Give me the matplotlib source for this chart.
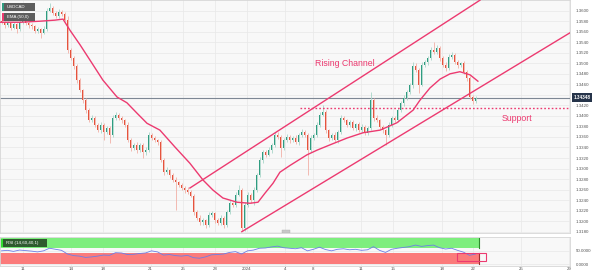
import matplotlib
matplotlib.use("Agg")
import matplotlib.pyplot as plt
from matplotlib.patches import Rectangle

plt.rcParams['font.family'] = ['Liberation Sans', 'DejaVu Sans']

# 4h candles, index 0..158 (closes)
closes = [1.3578, 1.3572, 1.3576, 1.3568, 1.3575, 1.3565, 1.3578, 1.3582, 1.3576, 1.3573,
          1.3570, 1.3562, 1.3565, 1.3558, 1.3566, 1.3600, 1.3605, 1.3596, 1.3590, 1.3598,
          1.3594, 1.3583, 1.3525, 1.3510, 1.3495, 1.3468, 1.3449, 1.3430, 1.3411, 1.3392,
          1.3396, 1.3383, 1.3373, 1.3383, 1.3370, 1.3377, 1.3364, 1.3396, 1.3402, 1.3396,
          1.3392, 1.3383, 1.3354, 1.3339, 1.3345, 1.3335, 1.3345, 1.3331, 1.3335, 1.3364,
          1.3358, 1.3354, 1.3350, 1.3316, 1.3293, 1.3297, 1.3287, 1.3278, 1.3274, 1.3269,
          1.3263, 1.3259, 1.3255, 1.3248, 1.3217, 1.3206, 1.3198, 1.3202, 1.3193, 1.3211,
          1.3215, 1.3202, 1.3196, 1.3206, 1.3193, 1.3217, 1.3234, 1.3231, 1.3250, 1.3259,
          1.3187, 1.3231, 1.3250, 1.3240, 1.3259, 1.3287, 1.3316, 1.3331, 1.3326, 1.3335,
          1.3345, 1.3364, 1.3360, 1.3339, 1.3354, 1.3360, 1.3354, 1.3358, 1.3350, 1.3364,
          1.3370, 1.3364, 1.3335, 1.3358, 1.3364, 1.3383, 1.3402, 1.3407, 1.3373, 1.3358,
          1.3364, 1.3354, 1.3370, 1.3396, 1.3392, 1.3383, 1.3388, 1.3377, 1.3384, 1.3373,
          1.3379, 1.3368, 1.3377, 1.3430, 1.3396, 1.3392, 1.3379, 1.3373, 1.3364, 1.3383,
          1.3396, 1.3392, 1.3411, 1.3424, 1.3434, 1.3445, 1.3459, 1.3495, 1.3487, 1.3459,
          1.3497, 1.3502, 1.3510, 1.3525, 1.3521, 1.3529, 1.3510, 1.3497, 1.3491, 1.3512,
          1.3516, 1.3502, 1.3497, 1.3500, 1.3483, 1.3472, 1.3436, 1.3428, 1.3435]
first_open = 1.3580

# wick lengths in pips above / below the body
up_wick = [4, 3, 5, 3, 4, 2, 5, 4, 3, 3,
           3, 2, 4, 3, 5, 6, 9, 4, 3, 5,
           3, 4, 6, 5, 4, 3, 4, 3, 5, 4,
           6, 3, 4, 5, 3, 4, 4, 6, 5, 3,
           4, 3, 5, 4, 3, 5, 3, 4, 6, 5,
           4, 3, 3, 5, 4, 6, 3, 4, 5, 3,
           4, 3, 5, 4, 3, 4, 5, 4, 3, 6,
           5, 3, 4, 5, 3, 4, 6, 3, 5, 10,
           4, 5, 6, 4, 5, 4, 6, 5, 4, 5,
           4, 6, 5, 3, 4, 5, 3, 4, 5, 4,
           5, 3, 4, 5, 4, 6, 5, 14, 4, 3,
           4, 5, 3, 6, 4, 3, 5, 4, 3, 4,
           5, 3, 4, 16, 4, 5, 3, 4, 3, 5,
           4, 3, 5, 4, 6, 5, 4, 7, 5, 4,
           6, 5, 4, 6, 15, 5, 4, 3, 5, 6,
           6, 4, 5, 3, 4, 5, 3, 4, 3]
dn_wick = [3, 4, 3, 5, 3, 8, 4, 3, 4, 5,
           4, 5, 4, 10, 3, 4, 3, 5, 4, 3,
           4, 3, 5, 4, 6, 5, 4, 6, 5, 4,
           4, 5, 3, 6, 16, 4, 16, 5, 4, 3,
           5, 4, 3, 6, 4, 5, 4, 11, 5, 4,
           3, 4, 5, 3, 6, 4, 5, 3, 53, 4,
           3, 5, 4, 3, 5, 4, 6, 5, 6, 4,
           3, 5, 4, 3, 6, 4, 3, 5, 4, 3,
           6, 5, 4, 5, 9, 4, 3, 5, 4, 3,
           5, 4, 3, 17, 4, 3, 5, 4, 3, 5,
           4, 5, 47, 4, 3, 5, 4, 3, 5, 6,
           3, 4, 5, 4, 3, 5, 4, 3, 5, 4,
           3, 5, 4, 3, 5, 4, 3, 5, 19, 4,
           5, 4, 3, 4, 5, 3, 4, 5, 4, 16,
           3, 4, 5, 3, 4, 3, 5, 4, 6, 3,
           4, 3, 5, 4, 3, 5, 4, 6, 3]

# EMA(50) (candle index, price)
ema_idx = [-0.5, 6.2, 12.8, 17.8, 20.5, 22.8, 26.2, 29.5, 33.8, 38.5, 41.8, 45.2, 48.5,
           52.8, 57.8, 62.8, 67.2, 70.5, 73.8, 78.5, 82.8, 85.5, 87.8, 90.5, 92.8, 96.2,
           101.8, 105.2, 109.5, 115.2, 120.5, 126.2, 131.8, 137.2, 139.5, 142.8, 146.2,
           149.5, 152.8, 156.2, 158.8]
ema_val = [1.3578, 1.3578, 1.3580, 1.3582, 1.3584, 1.3563, 1.3535, 1.3506, 1.3468, 1.3436,
           1.3425, 1.3405, 1.3386, 1.3373, 1.3341, 1.3310, 1.3278, 1.3259, 1.3244, 1.3236,
           1.3234, 1.3236, 1.3253, 1.3272, 1.3293, 1.3306, 1.3326, 1.3335, 1.3345, 1.3358,
           1.3368, 1.3373, 1.3387, 1.3411, 1.3430, 1.3453, 1.3470, 1.3480, 1.3484, 1.3478,
           1.3466]

# RSI(14) every second candle
rsi_idx = list(range(0, 159, 2))
rsi_val = [50, 52, 48, 53, 51, 49, 46, 50, 60, 56,
           52, 38, 32, 30, 25, 27, 30, 34, 33, 43,
           42, 36, 37, 40, 42, 50, 46, 34, 36, 32,
           30, 33, 24, 22, 27, 35, 36, 38, 44, 47,
           38, 50, 53, 60, 61, 65, 68, 62, 60, 58,
           62, 50, 56, 64, 55, 50, 56, 58, 54, 56,
           52, 54, 66, 52, 44, 56, 60, 63, 66, 72,
           67, 70, 72, 62, 57, 60, 52, 45, 33, 38]

tick_idx = [7.1, 23.1, 33.7, 49.7, 60.4, 71.2, 81.8, 94.5, 103.8, 119.8, 130.5, 146.7, 157.2, 173.2, 189.2]
tick_lbl = ['11', '14', '18', '21', '25', '28', '2024', '4', '8', '11', '15', '18', '22', '25', '29']

upper_x, upper_y = [62.8, 159.5], [1.3263, 1.3620]
lower_x, lower_y = [80.1, 189.5], [1.3180, 1.3558]
support = 1.3416
last_price = 1.34348

pink = '#ec3a70'
bull, bear = '#2f9c80', '#e5533d'
bull_w, bear_w = '#a9d6c9', '#f2b0a6'

fig = plt.figure(figsize=(6, 2.75), dpi=100)
ax = fig.add_axes([0, 1 - 233 / 275, 0.95, 233 / 275])
ar = fig.add_axes([0, 1 - 265.5 / 275, 0.95, 28.5 / 275])

for a in (ax, ar):
    a.set_facecolor('#f8f8f8')
    a.set_xlim(-0.5, 189.5)
    for s in a.spines.values():
        s.set_color('#d6d6d6')
        s.set_linewidth(0.6)
    a.set_xticks(tick_idx)
    a.grid(True, color='#e8e8e8', lw=0.5)
    a.set_axisbelow(True)
    a.yaxis.tick_right()
    a.tick_params(length=0, labelsize=3.2, labelcolor='#555555', pad=4)

# candles
opens = [first_open] + closes[:-1]
xs = list(range(len(closes)))
for i in xs:
    o, c = opens[i], closes[i]
    hi = max(o, c) + up_wick[i] * 0.0001
    lo = min(o, c) - dn_wick[i] * 0.0001
    up = c >= o
    ax.vlines(i, lo, hi, color=bull_w if up else bear_w, lw=0.6, zorder=2)
    ax.bar(i, max(abs(c - o), 0.00008), bottom=min(o, c), width=0.65,
           color=bull if up else bear, zorder=3, linewidth=0)

ax.plot(ema_idx, ema_val, color=pink, lw=1.0, zorder=4)
ax.plot(upper_x, upper_y, color=pink, lw=1.0, zorder=4)
ax.plot(lower_x, lower_y, color=pink, lw=1.0, zorder=4)
ax.plot([99.5, 189.5], [support, support], color=pink, lw=1.0, ls=(0, (1.2, 1.5)), zorder=4)
ax.axhline(last_price, color='#7d8794', lw=0.8, zorder=1)

ax.text(114.5, 1.3500, 'Rising Channel', color=pink, fontsize=6.3, ha='center', va='center')
ax.text(171.8, 1.3396, 'Support', color=pink, fontsize=6.3, ha='center', va='center')

ax.set_ylim(1.31775, 1.36203)
yt = [1.3180 + 0.002 * k for k in range(22)]
ax.set_yticks(yt)
# the 1.3440 label sits under the last-price tag
ax.set_yticklabels(['' if abs(v - 1.3440) < 1e-6 else '%.4f' % v for v in yt])
ax.set_xticklabels([])
ax.text(1.006, last_price, '%.5f' % last_price, transform=ax.get_yaxis_transform(),
        fontsize=3.3, color='white', fontweight='bold', ha='left', va='center',
        bbox=dict(boxstyle='square,pad=0.4', fc='#26344a', ec='none'))
ax.add_patch(Rectangle((93.5, 1.3178), 2.7, 0.0006, fc='#c8c8c8', ec='#b0b0b0', lw=0.3, zorder=5))

# RSI panel
ar.set_ylim(-5.7, 102.7)
ar.set_yticks([0, 50])
ar.set_yticklabels(['0.0000', '50.0000'])
ar.set_xticklabels(tick_lbl)
ar.tick_params(axis='x', pad=1)
ar.add_patch(Rectangle((-0.5, 60), 159.5, 40, fc='#7eee7e', ec='none', zorder=1))
ar.add_patch(Rectangle((-0.5, 0), 159.5, 40, fc='#fb7b7b', ec='none', zorder=1))
ar.plot([159, 159], [60, 100], color='#2f8a2f', lw=0.8, zorder=2)
ar.plot([159, 159], [0, 40], color='#9a3030', lw=0.8, zorder=2)
ar.plot(rsi_idx, rsi_val, color='#6c7ee6', lw=0.6, zorder=3)
ar.add_patch(Rectangle((151.8, 10), 9.7, 33, fc='none', ec=pink, lw=0.8, zorder=4))


def box(x0, y0, x1, y1, color, text, accent):
    fig.add_artist(Rectangle((x0 / 600, 1 - y1 / 275), (x1 - x0) / 600, (y1 - y0) / 275,
                             transform=fig.transFigure, fc=color, ec='none', zorder=10))
    fig.add_artist(Rectangle((x0 / 600, 1 - y1 / 275), 1.5 / 600, (y1 - y0) / 275,
                             transform=fig.transFigure, fc=accent, ec='none', zorder=11))
    fig.text((x0 + 5) / 600, 1 - (y0 + y1) / 2 / 275, text, color='white', fontsize=3.2,
             ha='left', va='center', zorder=12)


box(2, 3, 35, 11, '#5d5d5d', 'USDCAD', '#2f9c80')
box(2, 13, 35, 21, '#5d5d5d', 'EMA (50,0)', pink)
box(1, 239, 47, 247, '#2f5a2f', 'RSI (14,60,40,1)', '#33dd33')

fig.savefig('out.png', dpi=100, facecolor='white')
